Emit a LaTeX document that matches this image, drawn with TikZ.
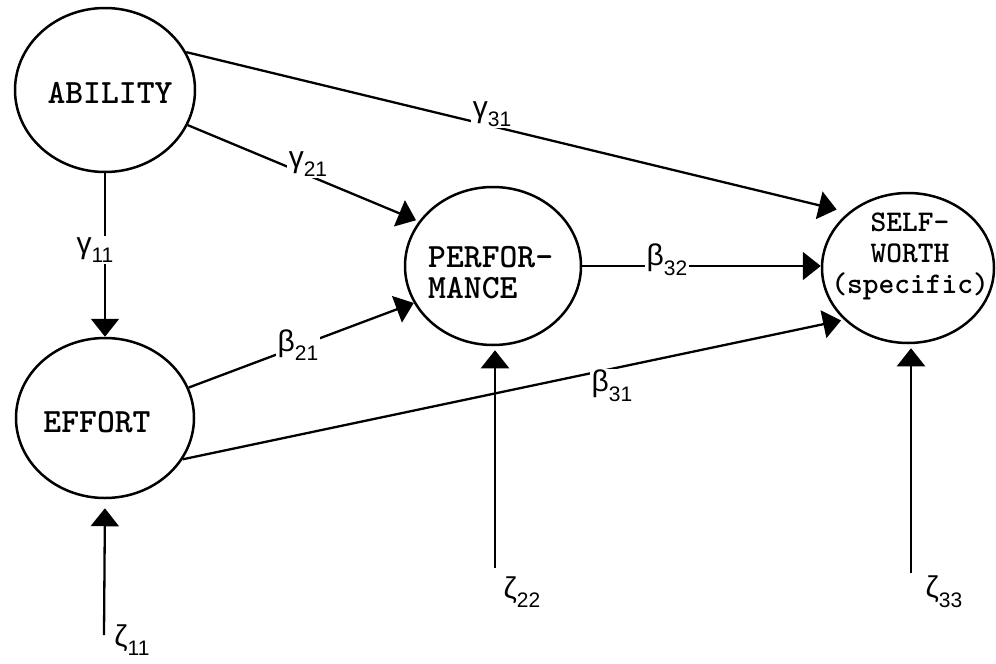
\documentclass[tikz,border=0pt]{standalone}
\usepackage{fontspec}
\newfontfamily\gkfont{Liberation Sans}
\usetikzlibrary{shapes.geometric,arrows.meta}
\newcommand\coefsym[2]{#1\raisebox{-0.32em}{\fontsize{21}{21}\selectfont #2}}
\begin{document}
\begin{tikzpicture}[x=1pt,y=-1pt,
  latent/.style={ellipse, draw, line width=2.5pt, inner sep=0pt},
  conn/.style={line width=2.3pt, -{Triangle[length=18pt,width=28pt]}},
  coef/.style={fill=white, inner sep=1.5pt, font=\fontsize{30}{30}\selectfont\gkfont},
  zlab/.style={inner sep=0pt, font=\fontsize{30}{30}\selectfont\gkfont},
  ntext/.style={font=\fontsize{34}{31}\selectfont\ttfamily\fontseries{b}\selectfont, inner sep=0pt}]
\useasboundingbox (0,0) rectangle (996,664);
% latent variables
\node[latent, minimum width=180pt, minimum height=164pt] (abil) at (105,90) {};
\node[latent, minimum width=178pt, minimum height=160pt] (eff) at (105,418) {};
\node[latent, minimum width=176pt, minimum height=158pt] (perf) at (493,266) {};
\node[latent, minimum width=172pt, minimum height=150pt] (self) at (908,268) {};
% texts
\node[ntext] (tabil) at (110,93) {ABILITY};
\node[ntext] (teff) at (97,422) {EFFORT};
\node[ntext, anchor=west, align=left] (tperf) at (428,273) {PERFOR-\\MANCE};
\node[ntext, font=\fontsize{30}{31}\selectfont\ttfamily\fontseries{b}\selectfont, align=center] (tself) at (910,256) {SELF-\\WORTH\\(specific)};
% disturbance origins
\coordinate (z11) at (104,635);
\coordinate (z22) at (495,568);
\coordinate (z33) at (911,573);
% connectors
\draw[conn, shorten >=12pt] (abil.25) -- (self.137);
\draw[conn, shorten >=3pt] (abil.-23) -- (perf.149);
\draw[conn] (abil.south) -- (eff.north);
\draw[conn] (eff.20) -- (perf.-155);
\draw[conn, shorten >=3pt] (eff.-28) -- (self.-141);
\draw[conn] (perf.east) -- (perf.east -| self.west);
\draw[conn, shorten >=9pt] (z11) -- (eff.south);
\draw[conn, shorten >=4pt] (z22) -- (z22 |- perf.south);
\draw[conn, shorten >=4pt] (z33) -- (z33 |- self.south);
% coefficient labels
\node[coef] (g11) at (95,250) {\coefsym{γ}{11}};
\node[coef] (g21) at (308,164) {\coefsym{γ}{21}};
\node[coef] (g31) at (492,114) {\coefsym{γ}{31}};
\node[coef] (b21) at (298,345) {\coefsym{β}{21}};
\node[coef] (b31) at (612,386) {\coefsym{β}{31}};
\node[coef] (b32) at (667,260) {\coefsym{β}{32}};
\node[zlab] (l11) at (132,640) {\coefsym{ζ}{11}};
\node[zlab] (l22) at (522,592) {\coefsym{ζ}{22}};
\node[zlab] (l33) at (944,592) {\coefsym{ζ}{33}};
\end{tikzpicture}
\end{document}
